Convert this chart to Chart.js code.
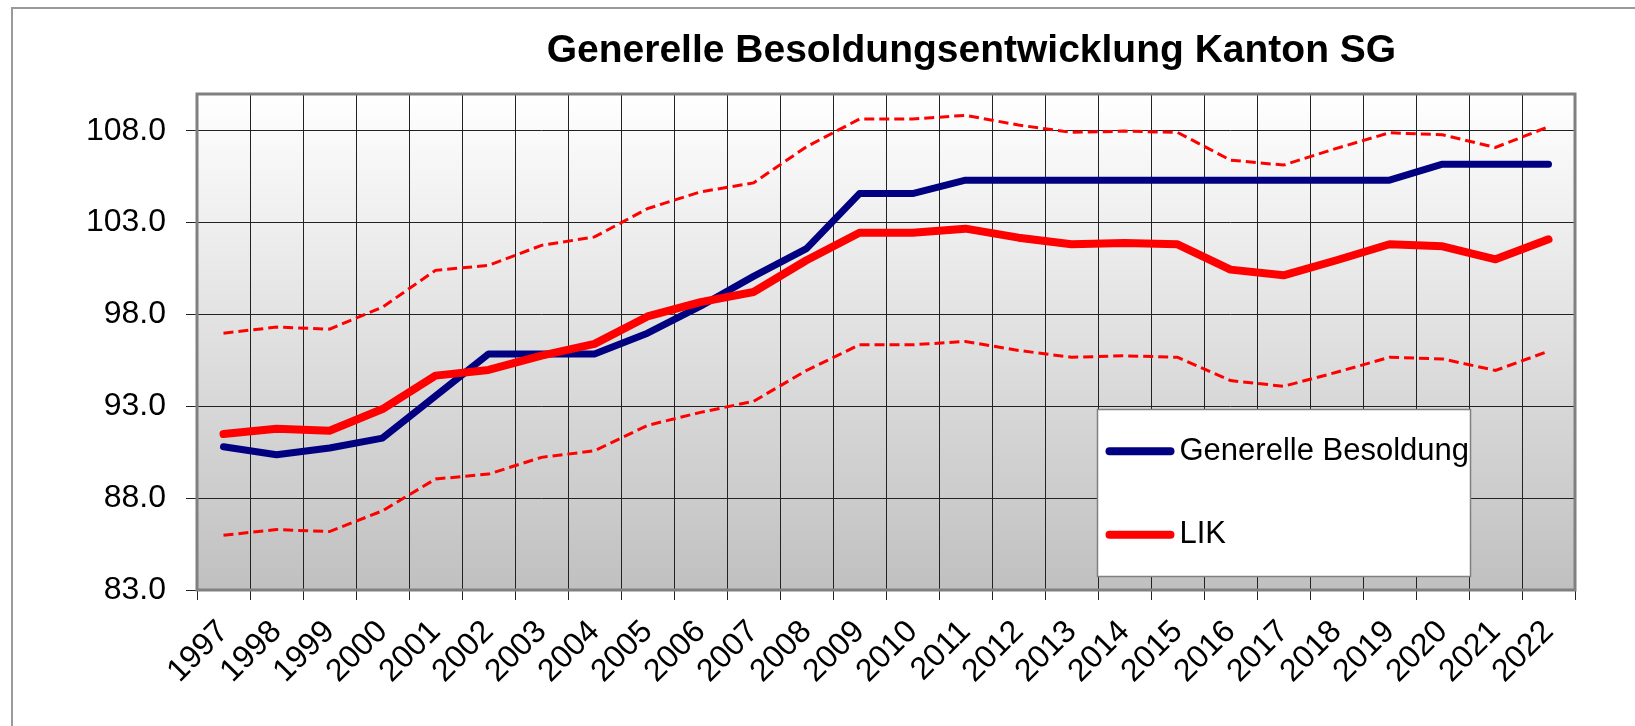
<!DOCTYPE html>
<html lang="de">
<head>
<meta charset="utf-8">
<title>Generelle Besoldungsentwicklung Kanton SG</title>
<script src="https://cdn.jsdelivr.net/npm/chart.js@4.4.1/dist/chart.umd.min.js"></script>
<style>
  html, body { margin: 0; padding: 0; background: #fff; overflow: hidden; }
  #wrap { position: relative; width: 1635px; height: 726px; overflow: hidden; }
  /* page frame: only the top and left edges are inside the window */
  #frame-top { position: absolute; left: 11px; top: 7px; width: 1624px; height: 2px; background: #9a9a9a; }
  #frame-left { position: absolute; left: 11px; top: 7px; width: 2px; height: 719px; background: #9a9a9a; }
  #chart { position: absolute; left: 0; top: 0; }
</style>
</head>
<body>
<div id="wrap">
  <div id="frame-top"></div>
  <div id="frame-left"></div>
  <canvas id="chart" width="1635" height="726"></canvas>
</div>
<script>
// Index values per year (LIK band = upper / lower dashed line)
const title = "Generelle Besoldungsentwicklung Kanton SG";
const years = ["1997", "1998", "1999", "2000", "2001", "2002", "2003", "2004", "2005",
  "2006", "2007", "2008", "2009", "2010", "2011", "2012", "2013", "2014", "2015",
  "2016", "2017", "2018", "2019", "2020", "2021", "2022"];

const besoldung = [90.8, 90.36, 90.73, 91.27, 93.56, 95.85, 95.85, 95.85, 96.98,
  98.45, 100.07, 101.58, 104.58, 104.58, 105.31, 105.31, 105.31, 105.31, 105.31,
  105.31, 105.31, 105.31, 105.31, 106.18, 106.18, 106.18];

const lik = [91.49, 91.78, 91.67, 92.85, 94.67, 94.98, 95.76, 96.4, 97.89,
  98.67, 99.22, 100.95, 102.45, 102.45, 102.67, 102.18, 101.82, 101.89, 101.82,
  100.44, 100.13, 100.95, 101.82, 101.71, 101.0, 102.09];

const likOben = [96.98, 97.31, 97.2, 98.4, 100.4, 100.67, 101.76, 102.22, 103.76,
  104.67, 105.16, 107.13, 108.64, 108.64, 108.84, 108.31, 107.91, 107.98, 107.91,
  106.4, 106.13, 107.04, 107.89, 107.78, 107.09, 108.22];

const likUnten = [85.98, 86.29, 86.18, 87.31, 89.04, 89.31, 90.22, 90.58, 91.96,
  92.67, 93.27, 94.95, 96.35, 96.35, 96.53, 96.04, 95.67, 95.75, 95.67,
  94.4, 94.09, 94.85, 95.67, 95.58, 94.95, 96.0];

const yTicks = [83, 88, 93, 98, 103, 108];

const FONT = '"Liberation Sans", Arial, sans-serif';

// grey gradient behind the plot
const plotBackground = {
  id: "plotBackground",
  beforeDraw(chart) {
    const { ctx, chartArea: a } = chart;
    const g = ctx.createLinearGradient(0, a.top, 0, a.bottom);
    g.addColorStop(0, "#ffffff");
    g.addColorStop(1, "#c0c0c0");
    ctx.save();
    ctx.fillStyle = g;
    ctx.fillRect(a.left, a.top, a.right - a.left, a.bottom - a.top);
    ctx.restore();
  },
};

const plotBorder = {
  id: "plotBorder",
  beforeDatasetsDraw(chart) {
    const { ctx, chartArea: a } = chart;
    ctx.save();
    ctx.strokeStyle = "#808080";
    ctx.lineWidth = 3;
    ctx.strokeRect(a.left, a.top, a.right - a.left, a.bottom - a.top);
    ctx.restore();
  },
};

// legend box inside the plot, only the solid lines
const boxLegend = {
  id: "boxLegend",
  afterDraw(chart) {
    const { ctx, chartArea: a } = chart;
    const w = a.right - a.left;
    const h = a.bottom - a.top;
    const x0 = Math.round(a.left + w * 0.653) + 0.5;
    const y0 = Math.round(a.top + h * 0.635) + 0.5;
    const x1 = Math.round(a.left + w * 0.924) + 0.5;
    const y1 = Math.round(a.top + h * 0.972) + 0.5;
    ctx.save();
    ctx.fillStyle = "#fff";
    ctx.fillRect(x0, y0, x1 - x0, y1 - y0);
    ctx.strokeStyle = "#808080";
    ctx.lineWidth = 1.5;
    ctx.strokeRect(x0, y0, x1 - x0, y1 - y0);

    const items = chart.data.datasets.filter((d) => !d.borderDash);
    const rowH = (y1 - y0) / items.length;
    items.forEach((d, i) => {
      const cy = y0 + rowH * (i + 0.5);
      ctx.beginPath();
      ctx.lineCap = "round";
      ctx.strokeStyle = d.borderColor;
      ctx.lineWidth = 8;
      ctx.moveTo(x0 + 12, cy);
      ctx.lineTo(x0 + 73, cy);
      ctx.stroke();
      ctx.fillStyle = "#000";
      ctx.font = "31px " + FONT;
      ctx.textAlign = "left";
      ctx.textBaseline = "middle";
      ctx.fillText(d.label, x0 + 82, cy);
    });
    ctx.restore();
  },
};

const chartTitle = {
  id: "chartTitle",
  afterDraw(chart) {
    const { ctx, chartArea: a } = chart;
    ctx.save();
    ctx.font = "bold 39px " + FONT;
    ctx.fillStyle = "#000";
    ctx.textAlign = "center";
    ctx.textBaseline = "alphabetic";
    ctx.fillText(title, a.left + (a.right - a.left) * 0.562, 62);
    ctx.restore();
  },
};

const mainLine = {
  pointRadius: 0,
  fill: false,
  tension: 0,
  borderCapStyle: "round",
  borderJoinStyle: "round",
};

const ctx = document.getElementById("chart").getContext("2d");
new Chart(ctx, {
  type: "line",
  data: {
    labels: years,
    datasets: [
      { ...mainLine, label: "Generelle Besoldung", data: besoldung, borderColor: "#000080", borderWidth: 7, order: 1 },
      { ...mainLine, label: "LIK", data: lik, borderColor: "#ff0000", borderWidth: 8, order: 0 },
      { label: "LIK oben", data: likOben, borderColor: "#ff0000", borderWidth: 3, borderDash: [10, 5], pointRadius: 0, fill: false, order: 2 },
      { label: "LIK unten", data: likUnten, borderColor: "#ff0000", borderWidth: 3, borderDash: [10, 5], pointRadius: 0, fill: false, order: 2 },
    ],
  },
  options: {
    responsive: false,
    animation: false,
    devicePixelRatio: 1,
    layout: { padding: { left: 0, top: 94, right: 60, bottom: 0 } },
    plugins: {
      legend: { display: false },
      title: { display: false },
      tooltip: { enabled: false },
    },
    scales: {
      x: {
        offset: true,
        grid: { offset: true, color: "#222", lineWidth: 1, tickLength: 10 },
        border: { display: false },
        ticks: {
          color: "#000",
          font: { family: FONT, size: 32 },
          maxRotation: 45,
          minRotation: 45,
          autoSkip: false,
          padding: 13,
        },
        afterFit(scale) {
          scale.height = 136;
        },
      },
      y: {
        min: 83,
        max: 110,
        afterBuildTicks(scale) {
          scale.ticks = yTicks.map((v) => ({ value: v }));
        },
        grid: { color: "#222", lineWidth: 1, tickLength: 11 },
        border: { display: false },
        ticks: {
          color: "#000",
          font: { family: FONT, size: 32 },
          padding: 20,
          callback: (v) => Number(v).toFixed(1),
        },
        afterFit(scale) {
          scale.width = 197;
        },
      },
    },
  },
  plugins: [plotBackground, plotBorder, boxLegend, chartTitle],
});
</script>
</body>
</html>
